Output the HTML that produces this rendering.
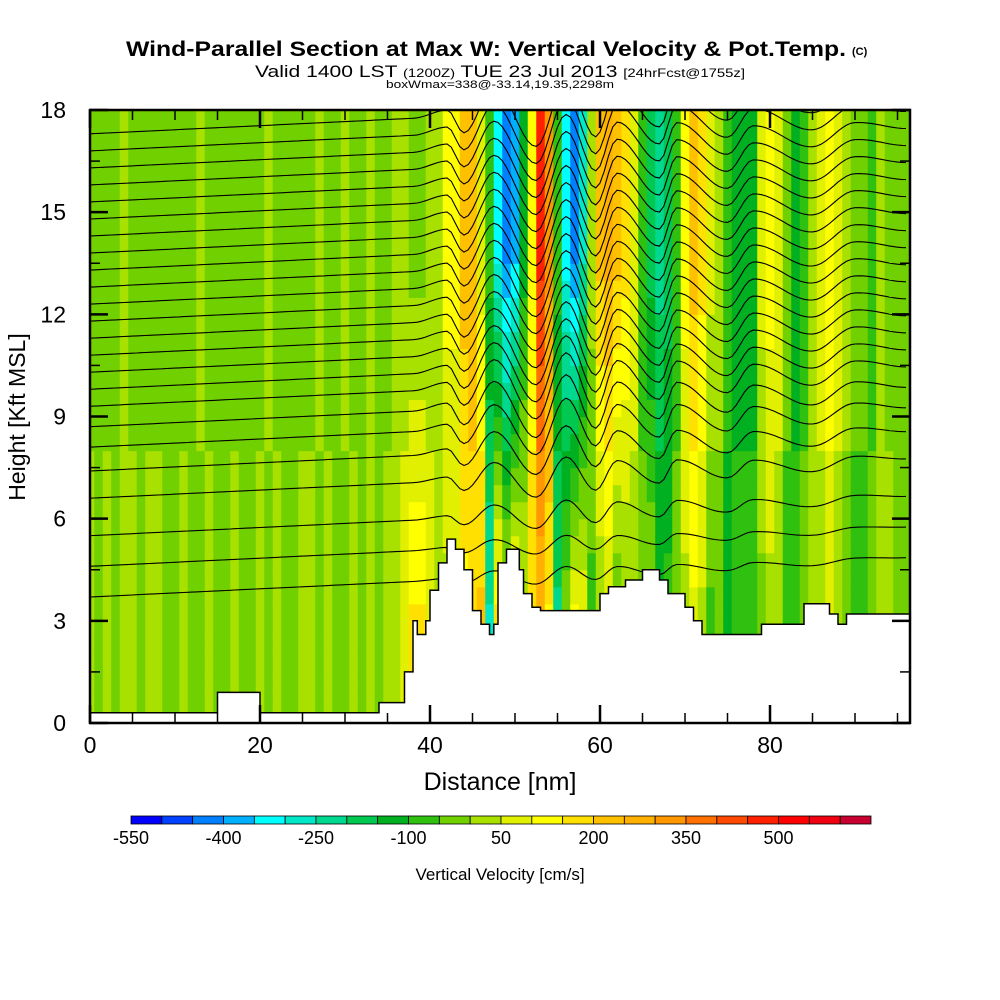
<!DOCTYPE html>
<html><head><meta charset="utf-8"><style>
html,body{margin:0;padding:0;background:#fff;}
svg{display:block;font-family:"Liberation Sans",sans-serif;}
</style></head><body>
<svg id="chart" width="1000" height="1000" viewBox="0 0 1000 1000">
<defs><clipPath id="plotclip"><rect x="90" y="110" width="820" height="613"/></clipPath></defs>
<text x="126" y="56" font-size="21" font-weight="bold" textLength="720" lengthAdjust="spacingAndGlyphs">Wind-Parallel Section at Max W: Vertical Velocity &amp; Pot.Temp.</text>
<text x="852" y="55" font-size="11" font-weight="bold">(C)</text>
<text x="255" y="77" font-size="17" textLength="490" lengthAdjust="spacingAndGlyphs">Valid 1400 LST <tspan font-size="12">(1200Z)</tspan> TUE 23 Jul 2013 <tspan font-size="12">[24hrFcst@1755z]</tspan></text>
<text x="386" y="88" font-size="11" textLength="228" lengthAdjust="spacingAndGlyphs">boxWmax=338@-33.14,19.35,2298m</text>
<g id="field" clip-path="url(#plotclip)"></g>
<g id="contours" clip-path="url(#plotclip)"></g>
<g id="terrain"></g>
<g id="axes"></g>
<g id="cbar"></g>
<text x="25" y="417" font-size="23" text-anchor="middle" transform="rotate(-90 25 417)">Height [Kft MSL]</text>
<text x="500" y="790" font-size="25" text-anchor="middle">Distance [nm]</text>
<text x="500" y="880" font-size="17" text-anchor="middle">Vertical Velocity [cm/s]</text>
</svg>
<script>
const colX = [0,1,2,3,4,5,6,7,8,9,10,11,12,13,14,15,16,17,18,19,20,21,22,23,24,25,26,27,28,29,30,31,32,33,34,35,36,37,38,39,40,41,42,43,44,45,46,47,48,49,50,51,52,53,54,55,56,57,58,59,60,61,62,63,64,65,66,67,68,69,70,71,72,73,74,75,76,77,78,79,80,81,82,83,84,85,86,87,88,89,90,91,92,93,94,95,96];
const wLow = [25,-25,25,-25,25,25,-25,25,25,-25,-25,25,-25,-25,25,-25,-25,25,-25,-25,25,-25,25,-25,-25,25,25,-25,25,-25,-25,25,-25,25,-25,25,25,75,175,175,75,25,25,25,125,175,225,-275,225,125,225,75,175,225,125,-225,25,175,125,-75,-25,25,-75,-25,25,-25,25,-75,-75,-25,25,75,25,-75,-25,-125,-75,-75,-75,-25,25,25,-75,-75,-25,25,25,75,25,-25,-75,-75,-25,25,25,-25,-25];
const wHigh = [-25,-25,-25,-25,25,-25,-25,-25,-25,-25,-25,-25,-25,25,-25,-25,-25,-25,-25,-25,-25,25,-25,-25,-25,-25,-25,25,-25,-25,25,-25,-25,25,-25,-25,25,25,-25,-25,25,25,125,125,225,225,75,-75,-325,-425,-375,-125,125,475,325,-75,-325,-425,-275,25,225,275,225,175,75,-75,-175,-225,-175,-75,125,225,175,75,25,-75,-125,-125,-125,75,125,75,-25,-125,-75,25,75,125,75,25,-25,-25,-75,25,-25,-25,-25];
const terrX = [0,15,20,34,37,38,38.5,39.5,40,41,42,43,44,45,46,47,47.5,48,49,50.5,51,52,53,60,61,63,65,67,68,70,71,72,79,80,84,87,88,89,96.5];
const terrH = [0.3,0.9,0.3,0.6,1.5,3.0,2.6,3.0,3.9,4.7,5.4,5.1,4.5,3.3,2.9,2.6,2.9,4.7,5.1,4.5,3.8,3.4,3.3,3.8,4.0,4.2,4.5,4.2,3.8,3.4,3.0,2.6,2.9,2.9,3.5,3.2,2.9,3.2,3.2];
const thetaBase = [17.3,16.8,16.3,15.8,15.3,14.8,14.3,13.8,13.3,12.8,12.3,11.8,11.3,10.8,10.3,9.8,9.3,8.7,8.1,7.4,6.6,5.5,4.6,3.7];
const dispX = [0,38,42,44,47.5,52.5,56,59.5,62,67,69,75,78,85,90,96.5];
const dispV = [0,0,0.2,-0.5,0.8,-1.0,0.9,-0.8,0.6,-0.6,0.5,-0.5,0.3,-0.4,0.25,0];
const cbColors = ["#0000ff","#0040ff","#0080ff","#00b0ff","#00ffff","#00e8c8","#00d890","#00c850","#00b020","#30c010","#70d000","#a8e000","#e0f000","#ffff00","#ffe000","#ffc000","#ffb000","#ff9800","#ff7000","#ff4800","#ff2000","#ff0000","#f00010","#c80030"];
const cbTicks = [-550,-400,-250,-100,50,200,350,500];
const yTicks = [0,3,6,9,12,15,18];
const xTicks = [0,20,40,60,80];

const NS="http://www.w3.org/2000/svg";
const X0=90,X1=910,XMAX=96.47,Y0=723,Y1=110,YMAX=18;
const sx=v=>X0+v/XMAX*(X1-X0);
const sy=v=>Y0-v/YMAX*(Y0-Y1);
function mk(t,a,p){const e=document.createElementNS(NS,t);for(const k in a)e.setAttribute(k,a[k]);p.appendChild(e);return e;}
function col(w){let i=Math.floor((w+550)/50);i=Math.max(0,Math.min(cbColors.length-1,i));return cbColors[i];}
function cosInterp(xs,vs,x){for(let i=0;i<xs.length-1;i++){if(x<=xs[i+1]){let t=(x-xs[i])/(xs[i+1]-xs[i]);t=(1-Math.cos(Math.PI*t))/2;return vs[i]+(vs[i+1]-vs[i])*t;}}return vs[vs.length-1];}

// field
const fg=document.getElementById('field');
const dh=0.5;
for(let i=0;i<colX.length;i++){
  const xa=Math.max(0,colX[i]-0.5), xb=Math.min(colX[i]+0.5,XMAX);
  if(xa>=XMAX)continue;
  for(let h=0;h<YMAX;h+=dh){
    const hm=h+dh/2;
    let t=(hm-2)/12;t=Math.max(0,Math.min(1,t));
    const w=wLow[i]+(wHigh[i]-wLow[i])*t;
    const r=mk('rect',{x:sx(xa),y:sy(h+dh),width:sx(xb)-sx(xa)+0.6,height:sy(h)-sy(h+dh)+0.6,fill:col(w)},fg);
    
    
  }
}
// contours
const cg=document.getElementById('contours');
thetaBase.forEach((b,k)=>{
  let d='';
  const amp=Math.min(1,Math.max(0.25,(b-3)/6));
  for(let x=0;x<=XMAX;x+=0.5){
    const h=b+0.012*x+cosInterp(dispX,dispV,x)*amp;
    d+=(x===0?'M':'L')+sx(x).toFixed(1)+','+sy(h).toFixed(1);
  }
  const p=mk('path',{d:d,fill:'none',stroke:'#000','stroke-width':1.1},cg);
  
  
});
// terrain
const tg=document.getElementById('terrain');
let td='M'+sx(0)+','+sy(0);
for(let i=0;i<terrX.length;i++){
  td+='L'+sx(terrX[i]).toFixed(1)+','+sy(terrH[i]).toFixed(1);
  if(i<terrX.length-1) td+='L'+sx(terrX[i+1]).toFixed(1)+','+sy(terrH[i]).toFixed(1);
}
td+='L'+sx(XMAX)+','+sy(0)+'Z';
const tp=mk('path',{d:td,fill:'#fff',stroke:'#000','stroke-width':1.5},tg);


// axes
const ag=document.getElementById('axes');
const fr=mk('rect',{x:X0,y:Y1,width:X1-X0,height:Y0-Y1,fill:'none',stroke:'#000','stroke-width':2.5},ag);


for(let v=0;v<=XMAX;v+=5){
  const major=v%20===0, len=major?18:10;
  mk('line',{x1:sx(v),x2:sx(v),y1:Y0,y2:Y0-len,stroke:'#000','stroke-width':major?2.5:1.5},ag);
  mk('line',{x1:sx(v),x2:sx(v),y1:Y1,y2:Y1+len,stroke:'#000','stroke-width':major?2.5:1.5},ag);
}
for(let v=0;v<=YMAX;v+=1.5){
  const major=v%3===0,len=major?18:10;
  mk('line',{x1:X0,x2:X0+len,y1:sy(v),y2:sy(v),stroke:'#000','stroke-width':major?2.5:1.5},ag);
  mk('line',{x1:X1,x2:X1-len,y1:sy(v),y2:sy(v),stroke:'#000','stroke-width':major?2.5:1.5},ag);
}
yTicks.forEach(v=>{
  const t=mk('text',{x:66,y:sy(v)+8,'font-size':23,'text-anchor':'end'},ag);t.textContent=v;
  
  
});
xTicks.forEach(v=>{
  const t=mk('text',{x:sx(v),y:753,'font-size':23,'text-anchor':'middle'},ag);t.textContent=v;
  
  
});
// colorbar
const bg=document.getElementById('cbar');
const CB0=131,CB1=871,cw=(CB1-CB0)/cbColors.length;
cbColors.forEach((c,i)=>{
  const r=mk('rect',{x:CB0+i*cw,y:816,width:cw,height:8,fill:c,stroke:'#000','stroke-width':0.8},bg);
  
  
});
cbTicks.forEach(v=>{
  const t=mk('text',{x:CB0+(v+550)/50*cw,y:844,'font-size':18,'text-anchor':'middle'},bg);t.textContent=v;
  
  
});
</script>
</body></html>
